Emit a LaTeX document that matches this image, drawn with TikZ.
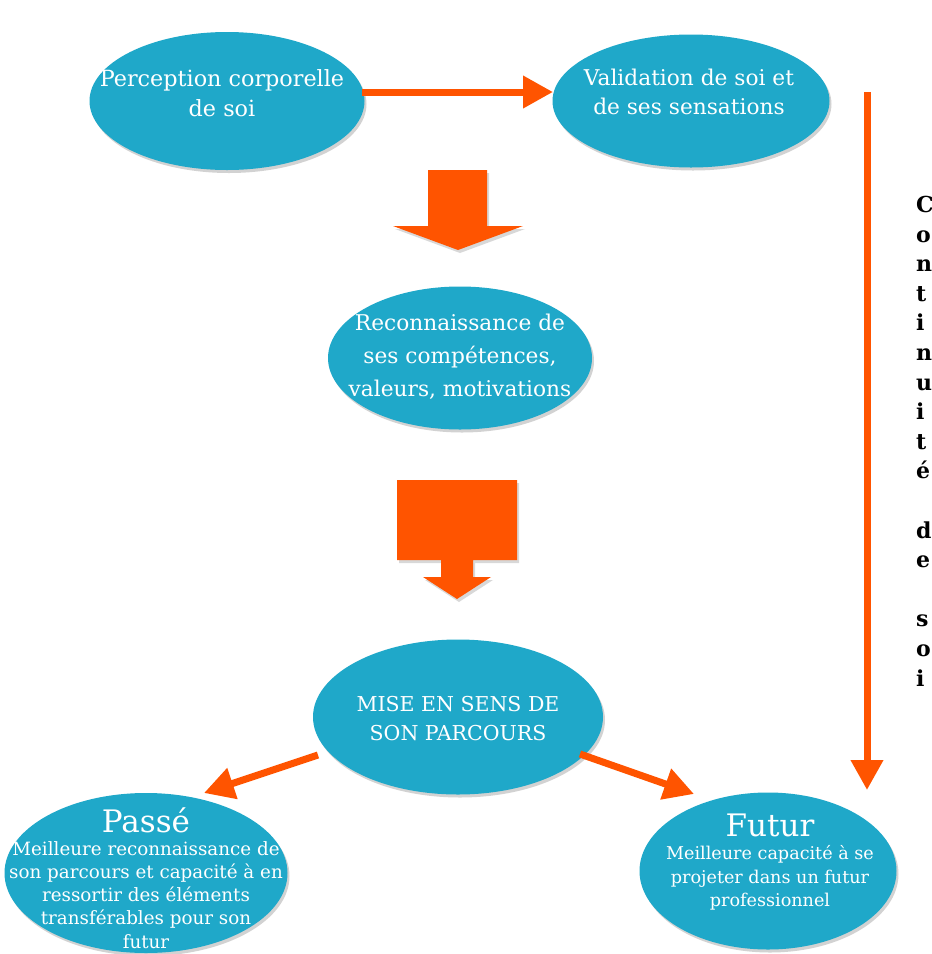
\documentclass[tikz,border=0pt]{standalone}
\usepackage{fontspec}
\setmainfont{DejaVu Serif}
\usetikzlibrary{shapes.geometric,shadows,arrows.meta}
\definecolor{tealbub}{HTML}{1FA8C9}
\definecolor{orng}{HTML}{FF5400}
\begin{document}
\begin{tikzpicture}[x=1pt,y=-1pt,
  bub/.style={ellipse, fill=tealbub, inner sep=0pt,
    drop shadow={opacity=0.35, shadow xshift=2pt, shadow yshift=-3pt}},
  txt/.style={text=white, align=center, inner sep=0pt},
  link/.style={draw=orng, line width=7pt, -{Triangle[length=30pt,width=31pt]}},
  bigarrow/.style={fill=orng, drop shadow={opacity=0.3, shadow xshift=2pt, shadow yshift=-3pt}}]
\fill[white] (0,0) rectangle (932,954);
\useasboundingbox (0,0) rectangle (932,954);

% ellipses
\node[bub, minimum width=275pt, minimum height=138pt] (perc) at (227,101) {};
\node[bub, minimum width=277pt, minimum height=133pt] (valid) at (691,101) {};
\node[bub, minimum width=264pt, minimum height=143pt] (recon) at (460,358) {};
\node[bub, minimum width=290pt, minimum height=155pt] (mise) at (458,717) {};
\node[bub, minimum width=283pt, minimum height=160pt] (passe) at (146,873) {};
\node[bub, minimum width=257pt, minimum height=157pt] (futur) at (768,871) {};

% texts
\node[txt, font=\fontsize{22.3}{30}\selectfont] (percT) at (222,93) {Perception corporelle\\de soi};
\node[txt, font=\fontsize{21.7}{29}\selectfont] (validT) at (689,92) {Validation de soi et\\de ses sensations};
\node[txt, font=\fontsize{21.7}{33}\selectfont] (reconT) at (460,357) {Reconnaissance de\\ses compétences,\\valeurs, motivations};
\node[txt, font=\fontsize{20.5}{29}\selectfont] (miseT) at (458,719) {MISE EN SENS DE\\SON PARCOURS};
\node[txt, font=\fontsize{18.3}{23.1}\selectfont] (passeT) at (146,878)
  {{\fontsize{31}{24}\selectfont Passé}\\Meilleure reconnaissance de\\son parcours et capacité à en\\ressortir des éléments\\transférables pour son\\futur};
\node[txt, font=\fontsize{17.6}{23.5}\selectfont] (futurT) at (770,862)
  {{\fontsize{31}{27}\selectfont Futur}\\Meilleure capacité à se\\projeter dans un futur\\professionnel};

% right vertical text
\node[anchor=north west, align=left, inner sep=0pt, font=\bfseries\fontsize{22}{29.6}\selectfont] (side) at (916,196)
  {C\\o\\n\\t\\i\\n\\u\\i\\t\\é\\[29.6pt]d\\e\\[29.6pt]s\\o\\i};

% big block arrows
\fill[bigarrow] (428,170) -- (487,170) -- (487,226) -- (523,226) -- (458,250) -- (393,226) -- (428,226) -- cycle;
\fill[bigarrow] (397,480) -- (517,480) -- (517,560) -- (473,560) -- (473,577) -- (491,577) -- (457,599) -- (423,577) -- (441,577) -- (441,560) -- (397,560) -- cycle;

% connectors
\coordinate (h1) at (362,92);
\coordinate (h2) at (553,92);
\draw[link] (h1) -- (h2);
\coordinate (v1) at (867,92);
\coordinate (v2) at (867,790);
\draw[link] (v1) -- (v2);
\coordinate (dl1) at (318,755);
\coordinate (dl2) at (204,793);
\draw[link] (dl1) -- (dl2);
\coordinate (dr1) at (580,754);
\coordinate (dr2) at (694,794);
\draw[link] (dr1) -- (dr2);
\end{tikzpicture}
\end{document}
